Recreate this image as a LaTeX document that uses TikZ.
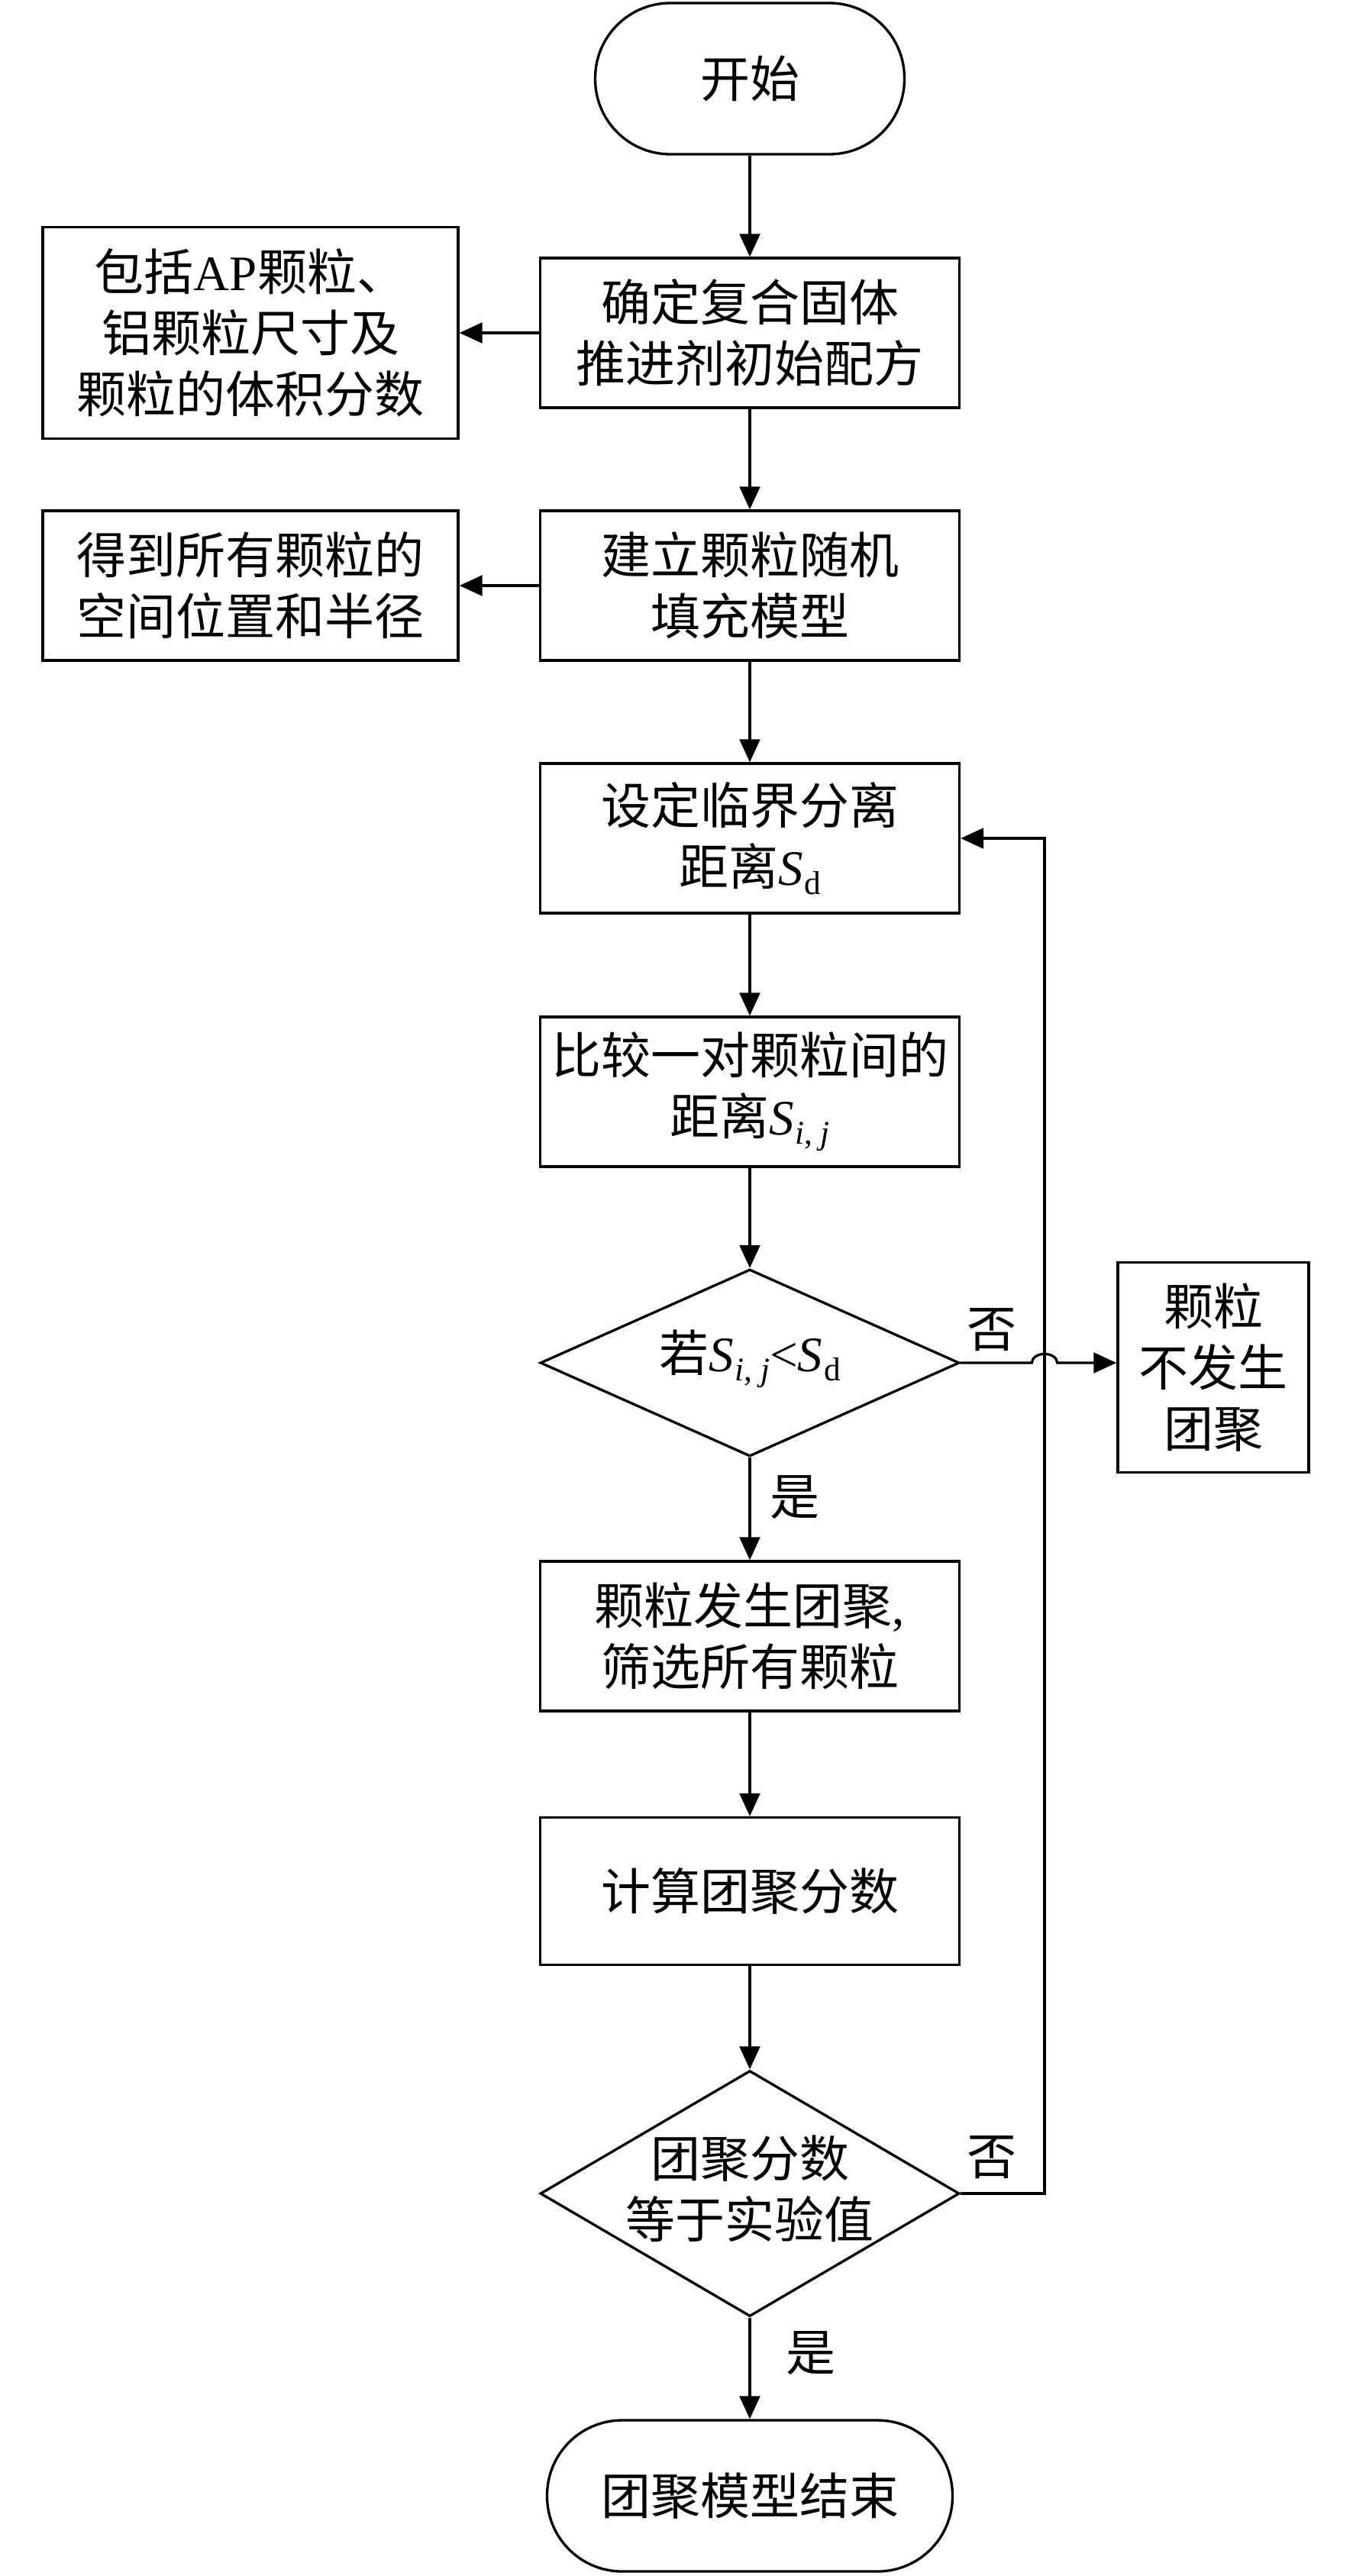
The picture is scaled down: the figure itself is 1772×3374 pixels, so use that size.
\documentclass[tikz,border=0pt]{standalone}
\usepackage{fontspec}
\setmainfont{Liberation Serif}
\newfontfamily\cjk{Noto Sans CJK SC}
\usetikzlibrary{shapes.geometric,arrows.meta}
\newcommand{\subtxt}[1]{\raisebox{-0.4ex}{\fontsize{13pt}{13pt}\selectfont #1}}
\newcommand{\Sd}{\textit{S}\kern0.5pt\subtxt{d}}
\newcommand{\Sij}{\textit{S}\kern0.5pt\subtxt{\textit{i}, \textit{j}}}
\begin{document}
\begin{tikzpicture}[x=0.3pt,y=-0.3pt,line width=1pt,
  base/.style={draw,inner sep=0pt,align=center,font=\fontsize{19.5pt}{24pt}\selectfont},
  mainbox/.style={base,rectangle,minimum width=164.7pt,minimum height=58.8pt},
  sidebox/.style={base,rectangle,minimum width=163.2pt},
  term/.style={base,rectangle,rounded corners=29.5pt,minimum height=59.4pt},
  decision/.style={draw,diamond,inner sep=0pt,minimum width=164.7pt},
  txt/.style={inner sep=0pt,align=center,font=\fontsize{19.5pt}{24pt}\selectfont},
  arr/.style={-{Triangle[length=9pt,width=8pt]}}]
\useasboundingbox (0,0) rectangle (1772,3374);

\node[term,minimum width=121.5pt] (start) at (982,103) {\cjk 开始};
\node[mainbox] (b1) at (982,436) {\cjk 确定复合固体\\\cjk 推进剂初始配方};
\node[sidebox,minimum height=83.1pt] (l1) at (328,436) {{\cjk 包括}AP{\cjk 颗粒、}\\\cjk 铝颗粒尺寸及\\\cjk 颗粒的体积分数};
\node[mainbox] (b2) at (982,767) {\cjk 建立颗粒随机\\\cjk 填充模型};
\node[sidebox,minimum height=58.8pt] (l2) at (328,767) {\cjk 得到所有颗粒的\\\cjk 空间位置和半径};
\node[mainbox] (b3) at (982,1098) {\cjk 设定临界分离\\{\cjk 距离}\Sd};
\node[mainbox] (b4) at (982,1430) {\cjk 比较一对颗粒间的\\{\cjk 距离}\Sij};
\node[decision,minimum height=73.5pt] (d1) at (982,1785) {};
\node[txt] (d1t) at (982,1780) {{\cjk 若}\Sij<\Sd};
\node[base,rectangle,minimum width=75pt,minimum height=82.5pt] (r) at (1589,1791) {\cjk 颗粒\\\cjk 不发生\\\cjk 团聚};
\node[mainbox] (b5) at (982,2143) {{\cjk 颗粒发生团聚}{,}\\\cjk 筛选所有颗粒};
\node[mainbox,minimum height=57.9pt] (b6) at (982,2477) {\cjk 计算团聚分数};
\node[decision,minimum height=96.6pt] (d2) at (982,2873) {};
\node[txt] (d2t) at (982,2867) {\cjk 团聚分数\\\cjk 等于实验值};
\node[term,minimum width=159.3pt] (end) at (982,3269) {\cjk 团聚模型结束};

\node[txt] (no1) at (1299,1742) {\cjk 否};
\node[txt] (yes1) at (1041,1961) {\cjk 是};
\node[txt] (no2) at (1299,2826) {\cjk 否};
\node[txt] (yes2) at (1062,3082) {\cjk 是};

\coordinate (hop) at (1368,1785);
\coordinate (c1) at (1368,2873);
\coordinate (c2) at (1368,1098);

\draw[arr] (start) -- (b1);
\draw[arr] (b1) -- (l1);
\draw[arr] (b1) -- (b2);
\draw[arr] (b2) -- (l2);
\draw[arr] (b2) -- (b3);
\draw[arr] (b3) -- (b4);
\draw[arr] (b4) -- (d1.north);
\draw[arr] (d1.south) -- (b5);
\draw[arr] (b5) -- (b6);
\draw[arr] (b6) -- (d2.north);
\draw[arr] (d2.south) -- (end);
\draw[arr] (d2.east) -- (c1) -- (c2) -- (b3.east);
\draw[arr] (d1.east) -- ([xshift=-5pt]hop) arc[start angle=180,end angle=0,x radius=5pt,y radius=3.5pt] -- (d1.east -| r.west);
\end{tikzpicture}
\end{document}
